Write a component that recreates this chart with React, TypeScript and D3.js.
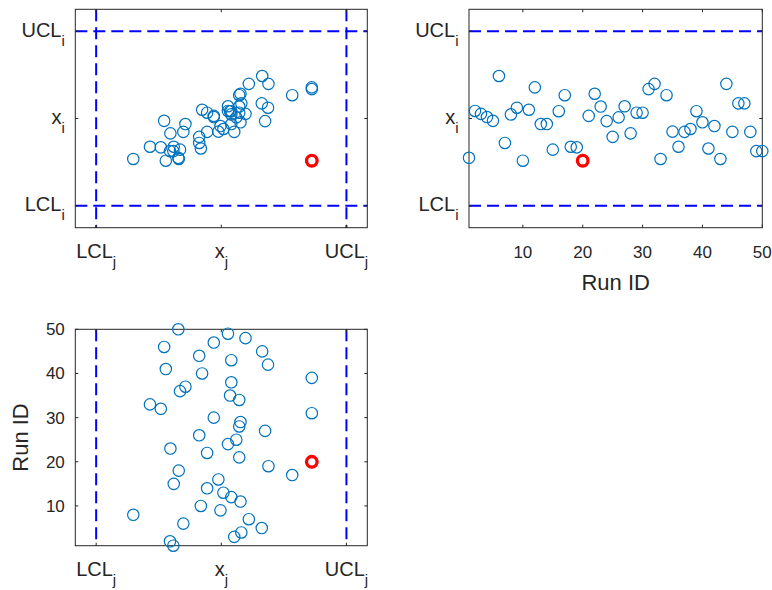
import * as React from "react";
import { useRef, useEffect } from "react";
import * as d3 from "d3";

// x_i per run (in sigma units, centre line = 0)
const xiValues = [
  -1.35, 0.26, 0.16, 0.05, -0.08, 1.46, -0.84, 0.14, 0.37, -1.45,
  0.3, 1.07, -0.19, -0.19, -1.07, 0.25, 0.8, -0.97, -0.99, -1.45,
  0.09, 0.85, 0.41, -0.09, -0.63, 0.04, 0.42, -0.51, 0.2, 0.2,
  1.01, 1.19, -1.39, 0.8, -0.45, -0.97, -0.46, -0.36, 0.25, -0.13,
  -1.03, -0.26, -1.39, 1.19, -0.46, 0.52, 0.52, -0.46, -1.12, -1.12,
];

// x_j per run as drawn in the bottom-left panel
// (the top-left scatter pairs run k with the reversed order of this list)
const xjValues = [
  -1.15, -1.23, 0.31, 0.48, 0.97, -0.91, 0.66, -2.11, -0.02, -0.49,
  0.46, 0.24, 0.05, -0.34, -1.14, -0.07, 1.7, -1.02, 1.13, 2.17,
  0.43, -0.34, -1.22, 0.16, 0.36, -0.53, 1.05, 0.43, 0.46, -0.18,
  2.17, -1.45, -1.71, 0.43, 0.21, -0.99, -0.86, 0.24, 2.17, -0.46,
  -1.33, 1.12, 0.24, -0.53, 0.98, -1.37, -0.18, 0.58, 0.16, -1.03,
];

const faultRun = 20;
const runTicks = [10, 20, 30, 40, 50];
const limitTicksI = [
  { v: -3, main: "LCL", sub: "i" },
  { v: 0, main: "x", sub: "i" },
  { v: 3, main: "UCL", sub: "i" },
];
const limitTicksJ = [
  { v: -3, main: "LCL", sub: "j" },
  { v: 0, main: "x", sub: "j" },
  { v: 3, main: "UCL", sub: "j" },
];

const FONT = "'Liberation Sans', Arial, Helvetica, sans-serif";
const AXIS_COLOR = "#262626";
const BLUE = "#0072BD";

export default function App() {
  const _ref = useRef(null);

  useEffect(() => {
    const root = _ref.current;
    root.innerHTML = "";
    const svg = d3
      .select(root)
      .append("svg")
      .attr("width", 772)
      .attr("height", 590)
      .style("position", "absolute")
      .style("left", "0px")
      .style("top", "0px")
      .style("background", "#fff");

    const runs = xiValues.map((_, k) => k + 1);

    const xj = d3.scaleLinear().domain([-3.5, 3.5]);
    const xi = d3.scaleLinear().domain([-3.75, 3.75]);
    const run = d3.scaleLinear().domain([1, 50]);

    // one axes box with limit lines, ticks and points
    const drawPanel = (opts) => {
      const { left, right, top, bottom, x, y, xTicks, yTicks, vLimits, hLimits, points, fault, xLabel, yLabel } = opts;
      const sx = x.copy().range([left, right]);
      const sy = y.copy().range([bottom, top]);
      const g = svg.append("g");

      // limit lines
      const dash = "12,6";
      vLimits.forEach((v) => {
        g.append("line")
          .attr("x1", sx(v)).attr("x2", sx(v))
          .attr("y1", top).attr("y2", bottom)
          .attr("stroke", "#0000FF").attr("stroke-width", 2)
          .attr("stroke-dasharray", dash);
      });
      hLimits.forEach((v) => {
        g.append("line")
          .attr("x1", left).attr("x2", right)
          .attr("y1", sy(v)).attr("y2", sy(v))
          .attr("stroke", "#0000FF").attr("stroke-width", 2)
          .attr("stroke-dasharray", dash);
      });

      // box
      g.append("rect")
        .attr("x", left).attr("y", top)
        .attr("width", right - left).attr("height", bottom - top)
        .attr("fill", "none").attr("stroke", AXIS_COLOR).attr("stroke-width", 1);

      const tl = 3;
      xTicks.forEach((t) => {
        const px = sx(t.v);
        g.append("line").attr("x1", px).attr("x2", px).attr("y1", bottom).attr("y2", bottom - tl)
          .attr("stroke", AXIS_COLOR);
        g.append("line").attr("x1", px).attr("x2", px).attr("y1", top).attr("y2", top + tl)
          .attr("stroke", AXIS_COLOR);
        const txt = g.append("text")
          .attr("x", px).attr("y", bottom + 30.6)
          .attr("text-anchor", "middle")
          .attr("fill", AXIS_COLOR)
          .style("font-family", FONT);
        if (t.sub) {
          txt.append("tspan").style("font-size", "20px").text(t.main);
          txt.append("tspan").attr("dy", 9).style("font-size", "15px").text(t.sub);
        } else {
          txt.style("font-size", "17px").text(t.main);
        }
      });
      yTicks.forEach((t) => {
        const py = sy(t.v);
        g.append("line").attr("x1", left).attr("x2", left + tl).attr("y1", py).attr("y2", py)
          .attr("stroke", AXIS_COLOR);
        g.append("line").attr("x1", right).attr("x2", right - tl).attr("y1", py).attr("y2", py)
          .attr("stroke", AXIS_COLOR);
        const txt = g.append("text")
          .attr("x", left - 10.5)
          .attr("text-anchor", "end")
          .attr("fill", AXIS_COLOR)
          .style("font-family", FONT);
        if (t.sub) {
          txt.attr("y", py + 5.4);
          txt.append("tspan").style("font-size", "20px").text(t.main);
          txt.append("tspan").attr("dy", 9).style("font-size", "15px").text(t.sub);
        } else {
          txt.attr("y", py + 6).style("font-size", "17px").text(t.main);
        }
      });

      // points
      g.selectAll("circle.pt")
        .data(points)
        .join("circle")
        .attr("class", "pt")
        .attr("cx", (d) => sx(d[0]))
        .attr("cy", (d) => sy(d[1]))
        .attr("r", 5.7)
        .attr("fill", "none")
        .attr("stroke", BLUE)
        .attr("stroke-width", 1.2);
      g.append("circle")
        .attr("cx", sx(fault[0]))
        .attr("cy", sy(fault[1]))
        .attr("r", 5.3)
        .attr("fill", "none")
        .attr("stroke", "#FF0000")
        .attr("stroke-width", 3.3);

      if (xLabel) {
        g.append("text")
          .attr("x", (left + right) / 2).attr("y", bottom + 62.6)
          .attr("text-anchor", "middle")
          .attr("fill", AXIS_COLOR)
          .style("font-family", FONT).style("font-size", "22px")
          .text(xLabel);
      }
      if (yLabel) {
        g.append("text")
          .attr("transform", `translate(${left - 47},${(top + bottom) / 2}) rotate(-90)`)
          .attr("text-anchor", "middle")
          .attr("fill", AXIS_COLOR)
          .style("font-family", FONT).style("font-size", "22px")
          .text(yLabel);
      }
    };

    const n = xiValues.length;
    const fi = faultRun - 1;

    // top-left: x_j vs x_i
    drawPanel({
      left: 75.3, right: 367.3, top: 9.3, bottom: 227.7,
      x: xj, y: xi,
      xTicks: limitTicksJ, yTicks: limitTicksI,
      vLimits: [-3, 3], hLimits: [-3, 3],
      points: xiValues.map((v, k) => [xjValues[n - 1 - k], v]),
      fault: [xjValues[n - 1 - fi], xiValues[fi]],
    });

    // top-right: run ID vs x_i
    drawPanel({
      left: 469, right: 762.3, top: 9.3, bottom: 227.7,
      x: run, y: xi,
      xTicks: runTicks.map((v) => ({ v, main: String(v) })), yTicks: limitTicksI,
      vLimits: [], hLimits: [-3, 3],
      points: xiValues.map((v, k) => [runs[k], v]),
      fault: [faultRun, xiValues[fi]],
      xLabel: "Run ID",
    });

    // bottom-left: x_j vs run ID
    drawPanel({
      left: 75.3, right: 367.3, top: 329.3, bottom: 545.7,
      x: xj, y: run,
      xTicks: limitTicksJ, yTicks: runTicks.map((v) => ({ v, main: String(v) })),
      vLimits: [-3, 3], hLimits: [],
      points: xjValues.map((v, k) => [v, runs[k]]),
      fault: [xjValues[fi], faultRun],
      yLabel: "Run ID",
    });
  }, []);

  return <div ref={_ref}></div>;
}
